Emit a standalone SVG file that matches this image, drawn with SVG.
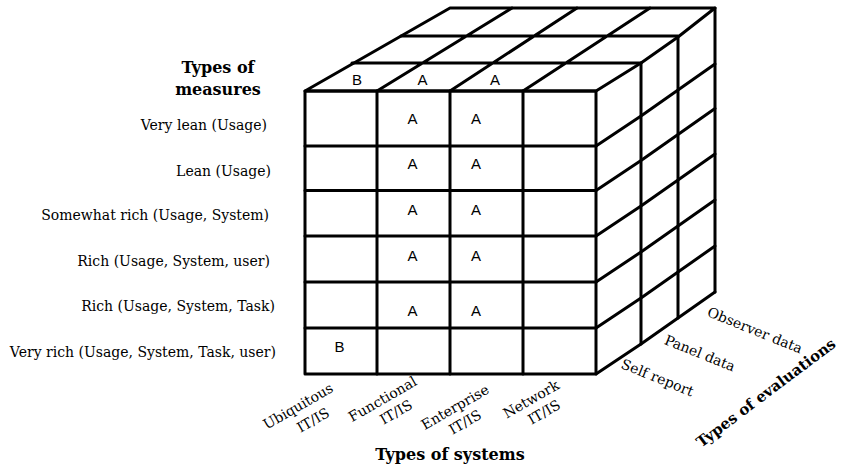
<svg xmlns="http://www.w3.org/2000/svg" width="843" height="465" viewBox="0 0 843 465">
<style>
.l{stroke:#000;stroke-width:3;fill:none;stroke-linejoin:round;stroke-linecap:round}
.cell{font-family:"Liberation Sans",Arial,sans-serif;font-size:15px;text-anchor:middle;fill:#000}
.lab{font-family:"DejaVu Serif",Georgia,serif;font-size:14px;fill:#000}
.end{text-anchor:end}
.mid{text-anchor:middle}
.ttl{font-family:"DejaVu Serif",Georgia,serif;font-size:16px;font-weight:bold;text-anchor:middle;fill:#000}
</style>
<rect width="843" height="465" fill="#fff"/>
<g id="top-face" class="l">
<polygon points="305,91 596,91 641,63 678,37 715,8 450,8"/>
<path d="M352,63 H641 M401,36 H678 M377,91 L512,8 M450,91 L577,8 M523,91 L650,8"/>
</g>
<g id="right-face" class="l">
<path d="M641,63 V344 M678,37 V318 M715,8 V292"/>
<path d="M596,146 L641,116 L678,90 L715,64 M596,190.5 L641,160.5 L678,134.5 L715,108.5 M596,236 L641,206 L678,180 L715,154 M596,282 L641,252 L678,226 L715,200 M596,328 L641,298 L678,272 L715,246 M596,374 L641,344 L678,318 L715,292"/>
</g>
<g id="front-face" class="l">
<rect x="305" y="91" width="291" height="283"/>
<path d="M377,91 V374 M450,91 V374 M523,91 V374 M305,146 H596 M305,190.5 H596 M305,236 H596 M305,282 H596 M305,328 H596"/>
</g>
<g id="cells">
<text class="cell" x="357" y="85">B</text>
<text class="cell" x="422.5" y="85">A</text>
<text class="cell" x="495" y="85">A</text>
<text class="cell" x="412.5" y="124">A</text>
<text class="cell" x="476" y="124">A</text>
<text class="cell" x="412.5" y="169">A</text>
<text class="cell" x="476" y="169">A</text>
<text class="cell" x="412.5" y="215">A</text>
<text class="cell" x="476" y="215">A</text>
<text class="cell" x="412.5" y="261">A</text>
<text class="cell" x="476" y="261">A</text>
<text class="cell" x="412.5" y="316">A</text>
<text class="cell" x="476" y="316">A</text>
<text class="cell" x="339.5" y="352">B</text>
</g>
<g id="measures">
<text class="ttl" x="218" y="73">Types of</text>
<text class="ttl" x="218" y="95">measures</text>
<text class="lab end" x="267" y="130">Very lean (Usage)</text>
<text class="lab end" x="271" y="176">Lean (Usage)</text>
<text class="lab end" x="269" y="220">Somewhat rich (Usage, System)</text>
<text class="lab end" x="270" y="266">Rich (Usage, System, user)</text>
<text class="lab end" x="275" y="311">Rich (Usage, System, Task)</text>
<text class="lab end" x="276" y="357">Very rich (Usage, System, Task, user)</text>
</g>
<g id="systems">
<text class="lab mid" transform="translate(298,406) rotate(-30)" y="5">Ubiquitous</text>
<text class="lab mid" transform="translate(313,420) rotate(-30)" y="5">IT/IS</text>
<text class="lab mid" transform="translate(382.5,399) rotate(-30)" y="5">Functional</text>
<text class="lab mid" transform="translate(396,412) rotate(-30)" y="5">IT/IS</text>
<text class="lab mid" transform="translate(455,407) rotate(-30)" y="5">Enterprise</text>
<text class="lab mid" transform="translate(465,422) rotate(-30)" y="5">IT/IS</text>
<text class="lab mid" transform="translate(531,399) rotate(-30)" y="5">Network</text>
<text class="lab mid" transform="translate(544,412) rotate(-30)" y="5">IT/IS</text>
<text class="ttl" x="450" y="460">Types of systems</text>
</g>
<g id="evaluations">
<text class="lab mid" transform="translate(657.5,377.5) rotate(22)" y="5">Self report</text>
<text class="lab mid" transform="translate(700,353) rotate(22)" y="5">Panel data</text>
<text class="lab mid" transform="translate(755,330) rotate(22)" y="5">Observer data</text>
<text class="ttl" transform="translate(766,393) rotate(-37)" y="5" style="font-size:15px">Types of evaluations</text>
</g>
</svg>
